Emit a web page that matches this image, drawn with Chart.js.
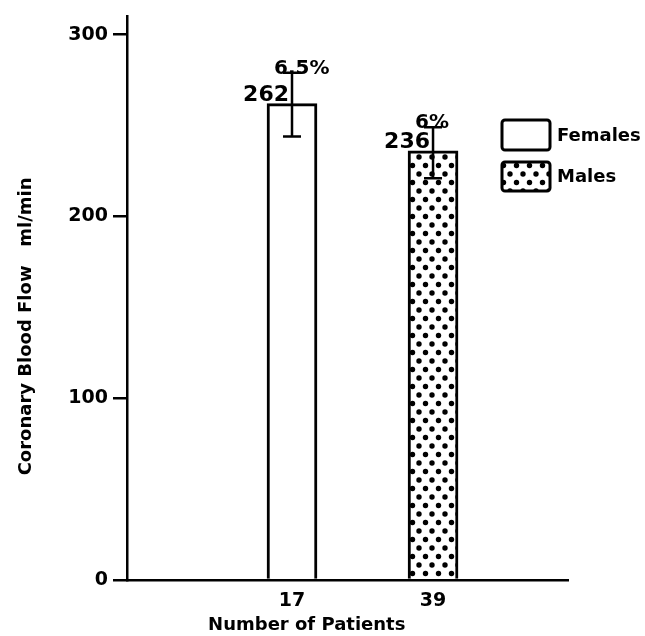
<!DOCTYPE html>
<html><head><meta charset="utf-8">
<script src="https://cdn.jsdelivr.net/npm/chart.js@4"></script>
<style>html,body{margin:0;padding:0;background:#fff;}canvas{display:block;}</style>
</head><body>
<canvas id="c" width="645" height="636"></canvas>
<script>
// ---- data ----
const categories = ['17', '39'];          // number of patients
const seriesNames = ['Females', 'Males'];
const flowValues = [262, 236];            // coronary blood flow, ml/min
const errorLow = [244, 221];
const errorHigh = [279, 249];
const percentLabels = ['6.5%', '6%'];
const yTicks = [0, 100, 200, 300];

const FONT = "'DejaVu Sans', sans-serif";
const canvas = document.getElementById('c');
const ctx0 = canvas.getContext('2d');

function dotPattern(ctx) {
  const t = document.createElement('canvas');
  t.width = 13; t.height = 17;
  const g = t.getContext('2d');
  g.fillStyle = '#fff'; g.fillRect(0, 0, 13, 17);
  g.fillStyle = '#000';
  [[3, 4], [9.5, 12.5]].forEach(([x, y]) => { g.beginPath(); g.arc(x, y, 2.7, 0, Math.PI * 2); g.fill(); });
  return ctx.createPattern(t, 'repeat');
}
const fills = ['#ffffff', dotPattern(ctx0)];

const errorAndLabels = {
  id: 'errorAndLabels',
  afterDatasetsDraw(chart) {
    const ctx = chart.ctx, ys = chart.scales.y;
    ctx.save();
    chart.data.datasets.forEach((ds, i) => {
      const bar = chart.getDatasetMeta(i).data[0];
      const x = bar.x;
      const yHi = ys.getPixelForValue(errorHigh[i]);
      const yLo = ys.getPixelForValue(errorLow[i]);
      ctx.strokeStyle = '#000'; ctx.lineWidth = 2.5;
      ctx.beginPath();
      ctx.moveTo(x, yHi); ctx.lineTo(x, yLo);
      ctx.moveTo(x - 9, yHi); ctx.lineTo(x + 9, yHi);
      ctx.moveTo(x - 9, yLo); ctx.lineTo(x + 9, yLo);
      ctx.stroke();
      ctx.fillStyle = '#000';
      ctx.textBaseline = 'alphabetic';
      ctx.font = 'bold 22px ' + FONT;
      ctx.textAlign = 'right';
      ctx.fillText(String(flowValues[i]), x - 3, bar.y - 3);
      ctx.font = 'bold 20px ' + FONT;
      ctx.textAlign = 'left';
      ctx.fillText(percentLabels[i], x - 18, yHi + 1);
    });
    ctx.restore();
  }
};

const legendBoxes = {
  id: 'legendBoxes',
  afterDraw(chart) {
    const ctx = chart.ctx;
    const rows = [{ y: 120, h: 30 }, { y: 162, h: 29 }];
    ctx.save();
    chart.data.datasets.forEach((ds, i) => {
      const r = rows[i];
      ctx.beginPath();
      ctx.roundRect(502, r.y, 48, r.h, 3);
      ctx.fillStyle = ds.backgroundColor;
      ctx.fill();
      ctx.lineWidth = 3; ctx.strokeStyle = '#000';
      ctx.stroke();
      ctx.fillStyle = '#000';
      ctx.font = 'bold 18px ' + FONT;
      ctx.textAlign = 'left'; ctx.textBaseline = 'middle';
      ctx.fillText(ds.label, 557, r.y + r.h / 2 + 1);
    });
    ctx.restore();
  }
};

new Chart(canvas, {
  type: 'bar',
  data: {
    datasets: seriesNames.map((name, i) => ({
      label: name,
      data: [{ x: i, y: flowValues[i] }],
      backgroundColor: fills[i],
      borderColor: '#000',
      borderWidth: 3,
      borderSkipped: 'bottom',
      barThickness: 50,
      grouped: false
    }))
  },
  options: {
    responsive: false,
    animation: false,
    devicePixelRatio: 1,
    layout: { padding: { top: 6, right: 77, bottom: 0, left: 0 } },
    plugins: { legend: { display: false }, tooltip: { enabled: false } },
    scales: {
      x: {
        type: 'linear', min: -1.17, max: 1.957, offset: false,
        afterBuildTicks: s => { s.ticks = categories.map((c, i) => ({ value: i })); },
        afterFit: s => { s.height = 56; },
        ticks: {
          autoSkip: false, maxRotation: 0, padding: 10, color: '#000',
          font: { family: FONT, size: 19, weight: 'bold' },
          callback: (v, idx) => categories[idx]
        },
        grid: { display: false, drawTicks: false },
        border: { display: true, color: '#000', width: 2.5 },
        title: {
          display: true, color: '#000',
          text: 'Number of Patients' + ' '.repeat(13),
          font: { family: FONT, size: 18, weight: 'bold' },
          padding: { top: 0, bottom: 0 }
        }
      },
      y: {
        min: 0, max: 310,
        afterBuildTicks: s => { s.ticks = yTicks.map(v => ({ value: v })); },
        afterFit: s => { s.width = 127; },
        ticks: { color: '#000', padding: 5, font: { family: FONT, size: 19, weight: 'bold' } },
        grid: { display: true, drawOnChartArea: false, drawTicks: true, tickLength: 14, color: '#000', lineWidth: 2.5 },
        border: { display: true, color: '#000', width: 2.5 },
        title: {
          display: true, color: '#000',
          text: 'Coronary Blood Flow   ml/min' + ' '.repeat(9),
          font: { family: FONT, size: 18, weight: 'bold' },
          padding: { top: 16, bottom: 0 }
        }
      }
    }
  },
  plugins: [errorAndLabels, legendBoxes]
});
</script>
</body></html>
